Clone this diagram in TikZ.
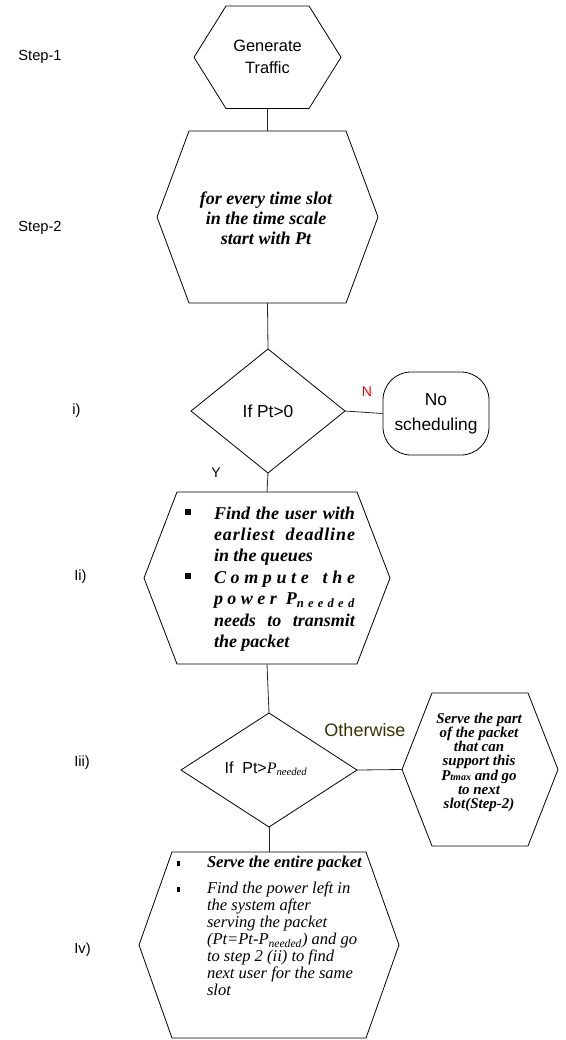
\documentclass[tikz,border=0pt]{standalone}
\usepackage{fontspec}
\setmainfont{Liberation Serif}
\newfontfamily\arialf{Liberation Sans}
\definecolor{othercol}{HTML}{333300}
\newcommand\hexpath[2]{\draw[outline] ([xshift=#2]#1.north west) -- ([xshift=-#2]#1.north east) -- (#1.east) -- ([xshift=-#2]#1.south east) -- ([xshift=#2]#1.south west) -- (#1.west) -- cycle;}
\newcommand\diapath[1]{\draw[outline] (#1.north) -- (#1.east) -- (#1.south) -- (#1.west) -- cycle;}
\newcommand\sqbullet{\leavevmode\llap{\raisebox{3.2pt}{\rule{4.3pt}{4.3pt}}\hspace{17.45pt}}}
\newcommand\rdbullet{\leavevmode\llap{\raisebox{1pt}{\rule{2.2pt}{4.2pt}}\hspace{20.3pt}}}
\begin{document}
\begin{tikzpicture}[x=0.75pt,y=-0.75pt,line width=0.6pt]
\tikzset{
  shapebox/.style={inner sep=0pt, outer sep=0pt, draw=none},
  outline/.style={draw=black, line width=0.6pt},
  conn/.style={draw=black!85, line width=0.6pt},
  lbl/.style={font=\arialf\fontsize{11}{13}\selectfont, inner sep=0pt, anchor=west},
  txt/.style={inner sep=0pt, outer sep=0pt},
}
\useasboundingbox (0,0) rectangle (566,1040);

% shape nodes
\node[shapebox, minimum width=110.25pt, minimum height=76.9pt] (h1) at (267.5,57.25) {};
\node[shapebox, minimum width=165.75pt, minimum height=129pt] (h2) at (267.5,217) {};
\node[shapebox, minimum width=115.5pt, minimum height=93pt] (d1) at (268,411) {};
\node[draw, rounded corners=21pt, minimum width=79.5pt, minimum height=62.25pt, inner sep=0pt, align=center, font=\arialf\fontsize{13}{19}\selectfont] (ns) at (436,413.5) {No\\scheduling};
\node[shapebox, minimum width=184.5pt, minimum height=129pt] (h3) at (267,578) {};
\node[shapebox, minimum width=132pt, minimum height=85.5pt] (d2) at (269,770) {};
\node[shapebox, minimum width=117pt, minimum height=114.75pt] (h4) at (480,769.5) {};
\node[shapebox, minimum width=195pt, minimum height=139.5pt] (h5) at (269,945) {};

\hexpath{h1}{24pt}
\hexpath{h2}{24pt}
\hexpath{h3}{24.75pt}
\hexpath{h4}{22.5pt}
\hexpath{h5}{24.75pt}
\diapath{d1}
\diapath{d2}

% connectors
\draw[conn] (h1.south) -- (h2.north);
\draw[conn] (h2.south) -- (d1.north);
\draw[conn] (d1.south) -- (h3.north);
\draw[conn] (d1.east) -- (ns.west);
\draw[conn] (h3.south) -- (d2.north);
\draw[conn] (d2.east) -- (h4.west);
\draw[conn] (d2.south) -- (h5.north);

% texts inside shapes
\node[txt, align=center, font=\arialf\fontsize{12.3}{16.5}\selectfont] (t1) at (267.5,57) {Generate\\Traffic};
\node[txt, align=center, font=\bfseries\itshape\fontsize{13.5}{15}\selectfont] (t2) at (266,218) {for every time slot\\in the time scale\\start with Pt};
\node[txt, align=center, font=\arialf\fontsize{13}{15}\selectfont] (t3) at (268,411) {If Pt>0};
\node[txt, anchor=base west] (t4) at (185,519) {\parbox[t]{127.5pt}{\fontsize{13.5}{16.1}\selectfont\bfseries\itshape\leftskip=21.75pt\parindent=0pt
\sqbullet\makebox[105.75pt][s]{Find the user with}\\
\makebox[105.75pt][s]{{\addfontfeature{LetterSpace=5}earliest} {\addfontfeature{LetterSpace=5}deadline}}\\
in the queues\\
\sqbullet\makebox[105.75pt][s]{C o m p u t e \ \ t h e}\\
\makebox[105.75pt][s]{p o w e r \ P\textsubscript{n\,\,e\,\,e\,\,d\,\,e\,\,d}}\\
\makebox[105.75pt][s]{needs to transmit}\\
the packet}};
\node[txt, anchor=base] (t5) at (266,773) {\arialf\fontsize{12}{14}\selectfont If\ \ Pt>{\rmfamily\itshape P\textsubscript{needed}}};
\node[txt, anchor=base] (t6) at (479,723) {\parbox[t]{90pt}{\centering\fontsize{11.2}{10.7}\selectfont\bfseries\itshape
Serve the part\\of the packet\\that can\\support this\\P{\fontsize{7.5}{8}\selectfont tmax} and go\\to next\\slot(Step-2)}};
\node[txt, anchor=base west] (t7) at (177,867.5) {\parbox[t]{140pt}{\fontsize{12.4}{12.7}\selectfont\itshape\leftskip=22.5pt\parindent=0pt
\rdbullet{\bfseries Serve the entire packet}\par\vspace{7pt}
\rdbullet Find the power left in\\
the system after\\
serving the packet\\
(Pt=Pt-P\textsubscript{needed}) and go\\
to step 2 (ii) to find\\
next user for the same\\
slot}};

% connector labels
\node[txt, font=\arialf\fontsize{10.5}{12}\selectfont, text=red] (ln) at (367,391.5) {N};
\node[txt, font=\arialf\fontsize{10.5}{12}\selectfont] (ly) at (216,473) {Y};
\node[txt, font=\arialf\fontsize{13.5}{15}\selectfont, text=othercol] (lo) at (365,730) {Otherwise};

% step labels
\node[lbl] (s1) at (18,57) {Step-1};
\node[lbl] (s2) at (18,228) {Step-2};
\node[lbl] (s3) at (72,411) {i)};
\node[lbl] (s4) at (74,577) {Ii)};
\node[lbl] (s5) at (74,763) {Iii)};
\node[lbl] (s6) at (74,950) {Iv)};
\end{tikzpicture}
\end{document}
